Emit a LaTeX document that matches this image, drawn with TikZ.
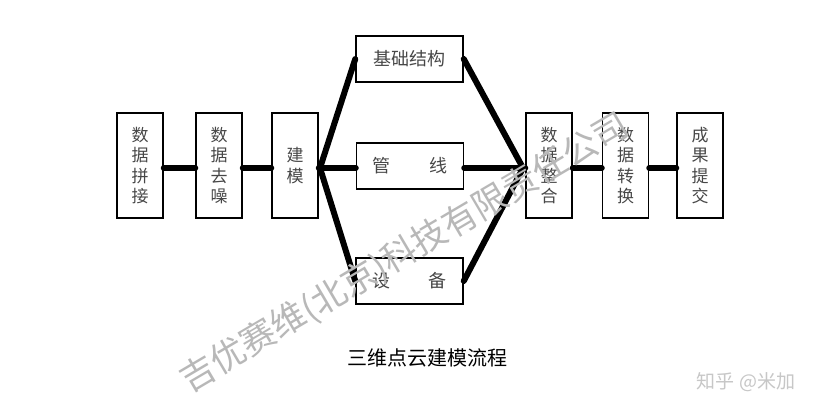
\documentclass[tikz,border=0pt]{standalone}
\usepackage{fontspec}
\newfontfamily\cjk{Noto Sans CJK SC}
\begin{document}
\begin{tikzpicture}[x=1pt,y=-1pt,
  box/.style={draw=black,line width=1.5pt,fill=white,inner sep=0pt,align=center,
    text=black!72,font=\cjk\fontsize{17}{20.5}\selectfont},
  tallbox/.style={box,minimum width=46pt,minimum height=105pt},
  widebox/.style={box,minimum width=107pt,minimum height=46pt,font=\cjk\fontsize{18}{20}\selectfont},
  link/.style={line width=6pt,line cap=round,line join=round,draw=black}]
\useasboundingbox (0,0) rectangle (832,409);
\fill[white] (0,0) rectangle (832,409);
% connectors first
\coordinate (hl) at (320,168);
\coordinate (hr) at (523,168);
\node[tallbox] (b1) at (140,165.5) {数\\据\\拼\\接};
\node[tallbox] (b2) at (219,165.5) {数\\据\\去\\噪};
\node[tallbox] (b3) at (295,165.5) {建\\模};
\node[widebox] (top) at (409.5,59) {基础结构};
\node[widebox] (mid) at (410,166) {管\hspace{39pt}线};
\node[widebox] (bot) at (409.5,281) {设\hspace{39pt}备};
\node[tallbox] (r1) at (549,165.5) {数\\据\\整\\合};
\node[tallbox] (r2) at (625.5,165.5) {数\\据\\转\\换};
\node[tallbox] (r3) at (700,165.5) {成\\果\\提\\交};
\begin{scope}[on background layer/.try]
\end{scope}
\draw[link] (b1.east |- 0,168) -- (b2.west |- 0,168);
\draw[link] (b2.east |- 0,168) -- (b3.west |- 0,168);
\draw[link] (top.west) -- (hl) -- (bot.west);
\draw[link] (hl) -- (mid.west |- 0,168);
\draw[link] (top.east) -- (hr) -- (bot.east);
\draw[link] (hr) -- (mid.east |- 0,168);
\draw[link] (r1.east |- 0,168) -- (r2.west |- 0,168);
\draw[link] (r2.east |- 0,168) -- (r3.west |- 0,168);
\draw[link] (b3.east |- 0,168) -- (hl);
\draw[link] (hr) -- (r1.west |- 0,168);
% caption
\node[font=\cjk\fontsize{20}{22}\selectfont,text=black] (cap) at (427,358) {三维点云建模流程};
% watermarks
\node[font=\cjk\fontsize{19}{21}\selectfont,text=black!22] (zh) at (746,382) {知乎 @米加};
\node[font=\cjk\fontsize{35}{38}\selectfont,text=black!28,rotate=30.5] (wm) at (405,253) {吉优赛维(北京)科技有限责任公司};
\end{tikzpicture}
\end{document}
